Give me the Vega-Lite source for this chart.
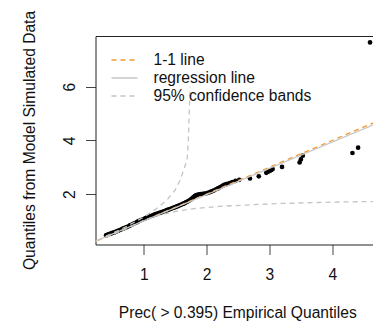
{
  "$schema": "https://vega.github.io/schema/vega-lite/v6.json",
  "autosize": {"type": "none"},
  "padding": {"left": 95.5, "top": 36, "right": 0, "bottom": 76.5},
  "width": 277.5,
  "height": 208.5,
  "background": "white",
  "config": {
    "view": {"stroke": null},
    "font": "Liberation Sans",
    "axis": {
      "grid": false,
      "domainColor": "#222",
      "domainWidth": 1,
      "tickColor": "#444",
      "tickWidth": 1,
      "tickSize": 10,
      "labelFont": "Liberation Sans",
      "labelFontSize": 15.6,
      "labelColor": "#111",
      "titleFont": "Liberation Sans",
      "titleFontSize": 15.6,
      "titleFontWeight": "normal",
      "titleColor": "#111"
    },
    "legend": {
      "orient": "none",
      "legendX": 20,
      "legendY": 15,
      "padding": 0,
      "symbolType": "M-1.625,0H1.625",
      "symbolSize": 256,
      "symbolStrokeWidth": 1.3,
      "symbolOpacity": 1,
      "labelFont": "Liberation Sans",
      "labelFontSize": 15.6,
      "labelColor": "#111",
      "labelOffset": 20,
      "rowPadding": -1.5
    }
  },
  "datasets": {
    "qq": [
      {"emp": 0.40, "sim": 0.46}, {"emp": 0.42, "sim": 0.48}, {"emp": 0.44, "sim": 0.50}, {"emp": 0.46, "sim": 0.52},
      {"emp": 0.48, "sim": 0.53}, {"emp": 0.50, "sim": 0.55}, {"emp": 0.53, "sim": 0.57}, {"emp": 0.55, "sim": 0.59},
      {"emp": 0.58, "sim": 0.62}, {"emp": 0.60, "sim": 0.64}, {"emp": 0.63, "sim": 0.67}, {"emp": 0.66, "sim": 0.70},
      {"emp": 0.68, "sim": 0.72}, {"emp": 0.71, "sim": 0.75}, {"emp": 0.73, "sim": 0.77}, {"emp": 0.76, "sim": 0.80},
      {"emp": 0.78, "sim": 0.83}, {"emp": 0.80, "sim": 0.85}, {"emp": 0.83, "sim": 0.88}, {"emp": 0.85, "sim": 0.91},
      {"emp": 0.87, "sim": 0.93}, {"emp": 0.89, "sim": 0.95}, {"emp": 0.91, "sim": 0.98}, {"emp": 0.93, "sim": 1.00},
      {"emp": 0.95, "sim": 1.02}, {"emp": 0.97, "sim": 1.04}, {"emp": 0.99, "sim": 1.06}, {"emp": 1.01, "sim": 1.08},
      {"emp": 1.03, "sim": 1.10}, {"emp": 1.05, "sim": 1.12}, {"emp": 1.07, "sim": 1.14}, {"emp": 1.09, "sim": 1.16},
      {"emp": 1.11, "sim": 1.18}, {"emp": 1.13, "sim": 1.19}, {"emp": 1.15, "sim": 1.21}, {"emp": 1.17, "sim": 1.23},
      {"emp": 1.19, "sim": 1.25}, {"emp": 1.21, "sim": 1.26}, {"emp": 1.23, "sim": 1.28}, {"emp": 1.25, "sim": 1.30},
      {"emp": 1.27, "sim": 1.31}, {"emp": 1.29, "sim": 1.33}, {"emp": 1.31, "sim": 1.35}, {"emp": 1.33, "sim": 1.36},
      {"emp": 1.35, "sim": 1.38}, {"emp": 1.37, "sim": 1.40}, {"emp": 1.39, "sim": 1.42}, {"emp": 1.41, "sim": 1.43},
      {"emp": 1.43, "sim": 1.45}, {"emp": 1.45, "sim": 1.47}, {"emp": 1.47, "sim": 1.49}, {"emp": 1.49, "sim": 1.50},
      {"emp": 1.51, "sim": 1.52}, {"emp": 1.53, "sim": 1.54}, {"emp": 1.55, "sim": 1.56}, {"emp": 1.57, "sim": 1.58},
      {"emp": 1.59, "sim": 1.60}, {"emp": 1.61, "sim": 1.62}, {"emp": 1.63, "sim": 1.64}, {"emp": 1.65, "sim": 1.66},
      {"emp": 1.67, "sim": 1.69}, {"emp": 1.69, "sim": 1.71}, {"emp": 1.71, "sim": 1.74}, {"emp": 1.73, "sim": 1.77},
      {"emp": 1.75, "sim": 1.80}, {"emp": 1.77, "sim": 1.84}, {"emp": 1.79, "sim": 1.88}, {"emp": 1.81, "sim": 1.92},
      {"emp": 1.83, "sim": 1.95}, {"emp": 1.85, "sim": 1.97}, {"emp": 1.88, "sim": 1.99}, {"emp": 1.91, "sim": 2.00},
      {"emp": 1.94, "sim": 2.01}, {"emp": 1.97, "sim": 2.02}, {"emp": 2.00, "sim": 2.03}, {"emp": 2.03, "sim": 2.05},
      {"emp": 2.06, "sim": 2.08}, {"emp": 2.09, "sim": 2.11}, {"emp": 2.12, "sim": 2.14}, {"emp": 2.15, "sim": 2.18},
      {"emp": 2.18, "sim": 2.21}, {"emp": 2.21, "sim": 2.25}, {"emp": 2.24, "sim": 2.29}, {"emp": 2.27, "sim": 2.33},
      {"emp": 2.30, "sim": 2.36}, {"emp": 2.33, "sim": 2.38}, {"emp": 2.37, "sim": 2.41}, {"emp": 2.41, "sim": 2.45},
      {"emp": 2.46, "sim": 2.49}, {"emp": 2.52, "sim": 2.53}, {"emp": 2.69, "sim": 2.58}, {"emp": 2.83, "sim": 2.66},
      {"emp": 2.95, "sim": 2.79}, {"emp": 2.98, "sim": 2.83}, {"emp": 3.01, "sim": 2.87}, {"emp": 3.03, "sim": 2.90},
      {"emp": 3.05, "sim": 2.93}, {"emp": 3.20, "sim": 3.01}, {"emp": 3.48, "sim": 3.18}, {"emp": 3.50, "sim": 3.29},
      {"emp": 3.53, "sim": 3.43}, {"emp": 4.32, "sim": 3.53}, {"emp": 4.41, "sim": 3.73}, {"emp": 4.60, "sim": 7.65}
    ],
    "guides": [
      {"series": "1-1 line", "part": "identity", "x": 0, "y": 0},
      {"series": "1-1 line", "part": "identity", "x": 8, "y": 8},
      {"series": "regression line", "part": "fit", "x": 0, "y": 0.02},
      {"series": "regression line", "part": "fit", "x": 8, "y": 7.86},
      {"series": "95% confidence bands", "part": "upper", "x": 0.40, "y": 0.43},
      {"series": "95% confidence bands", "part": "upper", "x": 0.70, "y": 0.76},
      {"series": "95% confidence bands", "part": "upper", "x": 1.00, "y": 1.14},
      {"series": "95% confidence bands", "part": "upper", "x": 1.20, "y": 1.45},
      {"series": "95% confidence bands", "part": "upper", "x": 1.37, "y": 1.78},
      {"series": "95% confidence bands", "part": "upper", "x": 1.50, "y": 2.15},
      {"series": "95% confidence bands", "part": "upper", "x": 1.58, "y": 2.52},
      {"series": "95% confidence bands", "part": "upper", "x": 1.65, "y": 3.00},
      {"series": "95% confidence bands", "part": "upper", "x": 1.69, "y": 3.27},
      {"series": "95% confidence bands", "part": "upper", "x": 1.71, "y": 4.00},
      {"series": "95% confidence bands", "part": "upper", "x": 1.72, "y": 4.76},
      {"series": "95% confidence bands", "part": "upper", "x": 1.74, "y": 6.00},
      {"series": "95% confidence bands", "part": "lower", "x": 0.40, "y": 0.38},
      {"series": "95% confidence bands", "part": "lower", "x": 0.70, "y": 0.68},
      {"series": "95% confidence bands", "part": "lower", "x": 1.00, "y": 1.02},
      {"series": "95% confidence bands", "part": "lower", "x": 1.20, "y": 1.18},
      {"series": "95% confidence bands", "part": "lower", "x": 1.50, "y": 1.35},
      {"series": "95% confidence bands", "part": "lower", "x": 1.80, "y": 1.46},
      {"series": "95% confidence bands", "part": "lower", "x": 2.20, "y": 1.54},
      {"series": "95% confidence bands", "part": "lower", "x": 2.70, "y": 1.60},
      {"series": "95% confidence bands", "part": "lower", "x": 3.20, "y": 1.65},
      {"series": "95% confidence bands", "part": "lower", "x": 4.00, "y": 1.70},
      {"series": "95% confidence bands", "part": "lower", "x": 4.65, "y": 1.72}
    ]
  },
  "layer": [
    {
      "data": {"name": "qq"},
      "mark": {"type": "point", "filled": true, "color": "#000", "opacity": 1, "size": 22, "clip": true},
      "encoding": {
        "x": {
          "field": "emp", "type": "quantitative",
          "scale": {"domain": [0.233, 4.647], "nice": false, "zero": false},
          "axis": {
            "orient": "bottom", "values": [1, 2, 3, 4],
            "labelBaseline": "alphabetic", "labelPadding": 24.8,
            "title": "Prec( > 0.395) Empirical Quantiles",
            "titleX": 141.8, "titleY": 72.8, "titleAlign": "center", "titleBaseline": "alphabetic"
          }
        },
        "y": {
          "field": "sim", "type": "quantitative",
          "scale": {"domain": [0.12, 7.89], "nice": false, "zero": false},
          "axis": {
            "values": [2, 4, 6],
            "labelAngle": -90, "labelAlign": "center", "labelBaseline": "alphabetic", "labelPadding": 11.5,
            "title": "Quantiles from Model Simulated Data",
            "titleAngle": -90, "titleX": -61, "titleY": 104, "titleAlign": "center", "titleBaseline": "alphabetic"
          }
        }
      }
    },
    {
      "data": {"name": "guides"},
      "mark": {"type": "line", "strokeWidth": 1.3, "clip": true},
      "encoding": {
        "x": {
          "field": "x", "type": "quantitative",
          "axis": {"orient": "top", "labels": false, "ticks": false, "title": null, "domainColor": "#222"}
        },
        "y": {"field": "y", "type": "quantitative", "axis": null},
        "detail": {"field": "part"},
        "color": {
          "field": "series", "type": "nominal",
          "scale": {
            "domain": ["1-1 line", "regression line", "95% confidence bands"],
            "range": ["#F39A2E", "#C8C8C8", "#C4C4C4"]
          },
          "legend": {"title": null}
        },
        "strokeDash": {
          "field": "series", "type": "nominal",
          "scale": {
            "domain": ["1-1 line", "regression line", "95% confidence bands"],
            "range": [[5, 4], [1, 0], [5, 4]]
          },
          "legend": {"title": null}
        }
      }
    }
  ],
  "resolve": {"axis": {"x": "independent", "y": "independent"}}
}
